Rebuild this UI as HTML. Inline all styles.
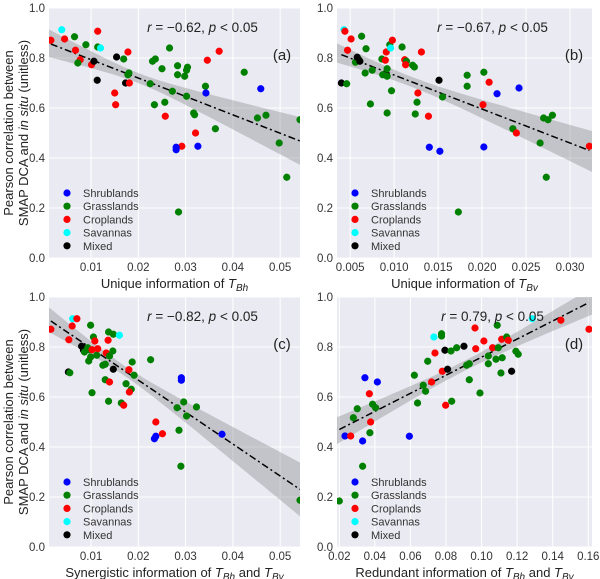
<!DOCTYPE html>
<html><head><meta charset="utf-8">
<style>
html,body{margin:0;padding:0;background:#fff;}
svg{display:block;font-family:"Liberation Sans",sans-serif;}
</style></head>
<body>
<svg id="chart" width="600" height="579" viewBox="0 0 600 579" xmlns="http://www.w3.org/2000/svg"></svg>
<script>
// ---------- data ----------
const categories = ["Shrublands","Grasslands","Croplands","Savannas","Mixed"];
const catCodes = ["S","G","C","V","M"];
const catColors = {S:"#0000ff",G:"#008000",C:"#ff0000",V:"#00ffff",M:"#000000"};

const yTicks = [0,0.2,0.4,0.6,0.8,1.0];
const yTickLabels = ["0.0","0.2","0.4","0.6","0.8","1.0"];

const aTicks = [0.01,0.02,0.03,0.04,0.05];
const aTickLabels = ["0.01","0.02","0.03","0.04","0.05"];
const aX = [0.0038,0.0015,0.0044,0.0065,0.0114,0.0089,0.0114,0.012,0.0067,0.0077,0.0072,0.0101,0.0106,0.0113,0.0154,0.0169,0.0178,0.018,0.0178,0.0173,0.0181,0.015,0.0152,0.0225,0.0234,0.023,0.0236,0.025,0.0256,0.0257,0.0266,0.0272,0.0283,0.0283,0.0298,0.0304,0.0302,0.0302,0.0317,0.0319,0.0321,0.0292,0.028,0.028,0.0326,0.0285,0.0342,0.0343,0.0346,0.0371,0.0363,0.0424,0.0459,0.0452,0.047,0.0498,0.0514,0.0542];
const aY = [0.913,0.871,0.876,0.885,0.907,0.853,0.844,0.84,0.831,0.793,0.78,0.773,0.787,0.711,0.804,0.796,0.824,0.74,0.733,0.70,0.70,0.66,0.613,0.697,0.613,0.787,0.796,0.757,0.623,0.567,0.84,0.667,0.769,0.733,0.727,0.763,0.751,0.647,0.58,0.573,0.50,0.447,0.443,0.433,0.447,0.184,0.687,0.66,0.791,0.827,0.517,0.743,0.677,0.56,0.571,0.46,0.323,0.553];
const aC = "VCCGCGGVCCGCMMMGCGGMCCCGGGGGGCGGGGGGGGGGCCSSSGGSCCGGSGGGGG";

const bTicks = [0.005,0.010,0.015,0.020,0.025,0.030];
const bTickLabels = ["0.005","0.010","0.015","0.020","0.025","0.030"];
const bX = [0.0043,0.0044,0.0051,0.0063,0.0047,0.0068,0.0056,0.006,0.0058,0.0061,0.004,0.0046,0.0067,0.0075,0.0073,0.0086,0.009,0.0091,0.0092,0.0087,0.0092,0.0095,0.0096,0.0098,0.0097,0.0092,0.0109,0.0112,0.0114,0.0113,0.0121,0.0123,0.0131,0.0127,0.0126,0.0124,0.0139,0.014,0.0152,0.0151,0.0155,0.0173,0.0183,0.0183,0.0202,0.0201,0.0202,0.0208,0.0217,0.0242,0.0235,0.0239,0.027,0.0275,0.028,0.0266,0.0273,0.0322];
const bY = [0.913,0.907,0.876,0.887,0.831,0.837,0.783,0.793,0.803,0.787,0.70,0.697,0.74,0.751,0.616,0.796,0.791,0.824,0.757,0.733,0.727,0.853,0.84,0.871,0.669,0.58,0.844,0.793,0.787,0.773,0.771,0.764,0.824,0.66,0.623,0.576,0.567,0.443,0.427,0.711,0.644,0.184,0.731,0.687,0.743,0.613,0.444,0.703,0.657,0.68,0.517,0.50,0.56,0.553,0.571,0.46,0.323,0.447];
const bC = "VCCGCGGGMMMGGGGGCCGGGGVCGGGCGCGGCCGGCSSMGGGGGCSCSSGCGGGGGC";

const cTicks = [0.01,0.02,0.03,0.04,0.05];
const cTickLabels = ["0.01","0.02","0.03","0.04","0.05"];
const cX = [0.0015,0.0061,0.007,0.006,0.0099,0.0053,0.008,0.0084,0.0086,0.0093,0.0096,0.0105,0.0095,0.0099,0.0112,0.0102,0.0108,0.0114,0.0132,0.0137,0.0147,0.0136,0.016,0.0146,0.0139,0.0125,0.013,0.0147,0.0052,0.0055,0.013,0.0139,0.0102,0.0137,0.0164,0.0169,0.018,0.0187,0.0191,0.0174,0.0185,0.0181,0.0226,0.0291,0.0291,0.0282,0.0296,0.0302,0.0323,0.0237,0.0237,0.0234,0.0251,0.0286,0.029,0.0377,0.0542];
const cY = [0.871,0.913,0.913,0.884,0.887,0.829,0.803,0.787,0.78,0.797,0.789,0.84,0.744,0.76,0.767,0.789,0.824,0.793,0.776,0.86,0.851,0.827,0.847,0.784,0.764,0.727,0.731,0.711,0.70,0.697,0.669,0.66,0.617,0.583,0.576,0.567,0.709,0.74,0.687,0.653,0.631,0.62,0.749,0.677,0.667,0.557,0.58,0.524,0.56,0.50,0.443,0.433,0.453,0.467,0.323,0.451,0.187];
const cC = "CVCCGCMMGGGGGGGCCCCGGCVGGGGMMGGCGGGCCGGGGCGSSGGGGCSSCGGSG";

const dTicks = [0.02,0.04,0.06,0.08,0.10,0.12,0.14,0.16];
const dTickLabels = ["0.02","0.04","0.06","0.08","0.10","0.12","0.14","0.16"];
const dX = [0.02,0.0232,0.0264,0.0331,0.0279,0.0301,0.0372,0.0331,0.0376,0.0387,0.0404,0.0369,0.0344,0.0414,0.0594,0.0622,0.064,0.0672,0.0685,0.0697,0.0719,0.0732,0.0738,0.0775,0.0775,0.0779,0.0794,0.0809,0.0832,0.0798,0.0828,0.086,0.0901,0.0916,0.0931,0.0931,0.0991,0.0967,0.0963,0.1013,0.1038,0.1038,0.1062,0.1081,0.1088,0.1094,0.1109,0.1116,0.1113,0.1141,0.115,0.1169,0.1193,0.1206,0.1285,0.1446,0.1604];
const dY = [0.184,0.444,0.444,0.424,0.517,0.553,0.457,0.323,0.50,0.571,0.557,0.613,0.677,0.66,0.443,0.687,0.576,0.647,0.623,0.743,0.66,0.84,0.776,0.853,0.844,0.703,0.787,0.711,0.583,0.567,0.784,0.797,0.803,0.727,0.733,0.669,0.616,0.793,0.876,0.824,0.764,0.733,0.797,0.751,0.887,0.797,0.696,0.757,0.831,0.84,0.827,0.703,0.783,0.771,0.913,0.907,0.871];
const dC = "GSCSGGGGCGGCSSSGGGGGCVCGGCMMGCGGMGGGGCCCGGCGGGGGCGCMGGVCC";

// regression fits: [slope, intercept, minHalfWidth, xMean, spread]
const fitA = [-7.36, 0.867, 0.02, 0.020, 2.74];
const fitB = [-13.59, 0.8676, 0.02, 0.012, 3.87];
const fitC = [-12.78, 0.923, 0.02, 0.017, 2.84];
const fitD = [3.617, 0.3977, 0.02, 0.09, 0.70];

const statA = [" = \u22120.62,  ", " < 0.05"];
const statB = [" = \u22120.67,  ", " < 0.05"];
const statC = [" = \u22120.82,  ", " < 0.05"];
const statD = [" = 0.79,  ", " < 0.05"];

// ---------- drawing ----------
const NS = "http://www.w3.org/2000/svg";
const svg = document.getElementById("chart");
function mk(tag, attrs, parent){
  const e = document.createElementNS(NS, tag);
  for (const k in attrs) e.setAttribute(k, attrs[k]);
  (parent||svg).appendChild(e);
  return e;
}

function panel(id, box, xmin, xmax, ticks, tickLabels, X, Y, C, fit, stat, label, xtitleParts){
  const [L,T,R,B] = box;
  const g = mk("g", {});
  
  
  const sx = v => L + (v - xmin) / (xmax - xmin) * (R - L);
  const sy = v => B - v * (B - T);
  const clipId = "clip-" + id;
  const cp = mk("clipPath", {id: clipId}, g);
  mk("rect", {x:L, y:T, width:R-L, height:B-T}, cp);
  const bg = mk("rect", {x:L, y:T, width:R-L, height:B-T, fill:"#eaeaf2"}, g);
  
  
  ticks.forEach((t,i) => {
    const x = sx(t);
    mk("line", {x1:x, x2:x, y1:T, y2:B, stroke:"#fff", "stroke-width":1}, g);
    const tl = mk("text", {x:x, y:B+13, "font-size":11.5, "text-anchor":"middle", fill:"#333"}, g);
    tl.textContent = tickLabels[i];
    
    
  });
  yTicks.forEach((t,i) => {
    const y = sy(t);
    mk("line", {x1:L, x2:R, y1:y, y2:y, stroke:"#fff", "stroke-width":1}, g);
    const tl = mk("text", {x:L-4, y:y+4, "font-size":11.5, "text-anchor":"end", fill:"#333"}, g);
    tl.textContent = yTickLabels[i];
    
    
  });
  const inner = mk("g", {"clip-path":"url(#"+clipId+")"}, g);
  const [m, b0, a, xm, s] = fit;
  const N = 40; let up = [], lo = [];
  for (let i=0;i<=N;i++){
    const xv = xmin + (xmax - xmin) * i / N;
    const yv = m * xv + b0;
    const hw = Math.sqrt(a*a + s*s*(xv-xm)*(xv-xm));
    up.push(sx(xv).toFixed(1)+","+sy(yv+hw).toFixed(1));
    lo.unshift(sx(xv).toFixed(1)+","+sy(yv-hw).toFixed(1));
  }
  const band = mk("polygon", {points: up.concat(lo).join(" "), fill:"#7a7a80", "fill-opacity":0.35}, inner);
  
  
  const X0 = Math.min(...X), X1 = Math.max(...X);
  const fl = mk("line", {x1:sx(X0), y1:sy(m*X0+b0), x2:sx(X1), y2:sy(m*X1+b0), stroke:"#000", "stroke-width":1.5, "stroke-dasharray":"7,3,2,3"}, inner);
  
  
  for (let i=0;i<X.length;i++){
    const c = mk("circle", {cx:sx(X[i]), cy:sy(Y[i]), r:3.6, fill:catColors[C[i]]}, inner);
    
    
  }
  const st = mk("text", {x:(L+R)/2+28, y:T+24, "font-size":13.5, "text-anchor":"middle", fill:"#222"}, g);
  
  
  const r1 = mk("tspan", {"font-style":"italic"}, st); r1.textContent = "r";
  const r2 = mk("tspan", {}, st); r2.textContent = stat[0];
  const r3 = mk("tspan", {"font-style":"italic"}, st); r3.textContent = "p";
  const r4 = mk("tspan", {}, st); r4.textContent = stat[1];
  const pl = mk("text", {x:R-18, y:T+52, "font-size":15, "text-anchor":"middle", fill:"#222"}, g);
  pl.textContent = label;
  
  
  categories.forEach((cat, i) => {
    const ly = T + 185 + i * 13.2;
    const lc = mk("circle", {cx:L+18, cy:ly, r:3.6, fill:catColors[catCodes[i]]}, g);
    
    
    const lt = mk("text", {x:L+34, y:ly+4, "font-size":11, fill:"#333"}, g);
    lt.textContent = cat;
    
    
  });
  const xt = mk("text", {x:(L+R)/2, y:B+30, "font-size":13, "text-anchor":"middle", fill:"#222"}, g);
  
  
  xtitleParts.forEach(p => {
    const ts = mk("tspan", {}, xt);
    if (p[1] === "T"){ ts.setAttribute("font-style","italic"); }
    if (p[1] === "sub"){ ts.setAttribute("font-style","italic"); ts.setAttribute("font-size","10"); ts.setAttribute("dy","3"); }
    if (p[1] === "back"){ ts.setAttribute("dy","-3"); }
    ts.textContent = p[0];
  });
}

panel("a", [49,8,300,258], 0.0011, 0.0542, aTicks, aTickLabels, aX, aY, aC, fitA, statA, "(a)",
  [["Unique information of ",""],["T","T"],["Bh","sub"]]);
panel("b", [337,8,592,258], 0.0035, 0.0325, bTicks, bTickLabels, bX, bY, bC, fitB, statB, "(b)",
  [["Unique information of ",""],["T","T"],["Bv","sub"]]);
panel("c", [49,297,300,547], 0.0011, 0.0542, cTicks, cTickLabels, cX, cY, cC, fitC, statC, "(c)",
  [["Synergistic information of ",""],["T","T"],["Bh","sub"],[" and ","back"],["T","T"],["Bv","sub"]]);
panel("d", [337,297,592,547], 0.0187, 0.1621, dTicks, dTickLabels, dX, dY, dC, fitD, statD, "(d)",
  [["Redundant information of ",""],["T","T"],["Bh","sub"],[" and ","back"],["T","T"],["Bv","sub"]]);

[133, 422].forEach(cy => {
  const t = mk("text", {transform:"translate(13,"+cy+") rotate(-90)", "font-size":13, "text-anchor":"middle", fill:"#222"});
  t.textContent = "Pearson correlation between";
  
  
  const t2 = mk("text", {transform:"translate(28,"+cy+") rotate(-90)", "font-size":13, "text-anchor":"middle", fill:"#222"});
  
  
  const s1 = mk("tspan", {}, t2); s1.textContent = "SMAP DCA and ";
  const s2 = mk("tspan", {"font-style":"italic"}, t2); s2.textContent = "in situ";
  const s3 = mk("tspan", {}, t2); s3.textContent = " (unitless)";
});
</script>
</body></html>
